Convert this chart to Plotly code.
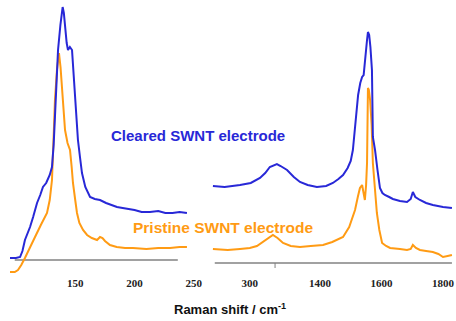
import plotly.graph_objects as go

# Left panel (RBM region), Raman shift / cm-1 and intensity (a.u.)
rbm_blue_x = [95, 100, 103.5, 105.5, 107.6, 110, 111.9, 114.5, 117.8, 120.5, 122.8, 125.5, 128.5, 130.4, 131.8, 132.9,
              134.3, 135.5, 137.5, 139.4, 140.4, 141.4, 142.8, 143.9, 145.5, 147.3, 148.1, 149.8, 151, 152.3, 154,
              155.7, 158.5, 162.5, 166.5, 170.9, 176, 180, 185.2, 190, 195, 200, 206, 213, 220, 226, 232, 238, 244.2]
rbm_blue_y = [17, 17, 18, 24, 35, 42, 48, 58, 72, 80, 88, 92, 100, 108, 130, 158,
              195, 225, 250, 268, 262, 248, 232, 225, 228, 225, 212, 175, 155, 135, 118,
              102, 88, 78, 76, 75, 72, 70, 68, 67, 66, 65, 63, 63, 64, 62, 62, 63, 62]

rbm_orange_x = [95, 99, 101.7, 104.5, 107.6, 111, 116.1, 121, 126.2, 128.5, 130.4, 131.7, 132.9, 134.6, 136.3, 137.6,
                138.8, 140, 141.4, 143.5, 145.6, 147, 148.1, 150, 151.5, 153.5, 156.6, 160, 164, 168.4, 170.9, 173,
                175.1, 179.3, 185, 192, 198.7, 210, 220, 230, 238, 244.2]
rbm_orange_y = [3, 3, 5, 10, 17, 26, 38, 50, 62, 75, 95, 135, 175, 205, 222, 208,
                188, 165, 145, 132, 125, 108, 92, 75, 62, 52, 45, 40, 37, 35, 38, 37,
                34, 30, 28, 27, 27, 26, 27, 27, 28, 28]

# Right panel (D / G band region)
g_blue_x = [1052, 1090, 1140, 1175, 1205, 1222, 1237, 1250, 1260, 1272, 1293, 1315, 1335, 1360, 1390, 1420, 1442,
            1460, 1475, 1490, 1500, 1507, 1514, 1520, 1524, 1531, 1537, 1542, 1546, 1550, 1553, 1556, 1560, 1564,
            1569, 1572, 1579, 1587, 1595, 1603, 1611, 1625, 1637, 1660, 1683, 1695, 1702, 1710, 1725, 1745, 1767,
            1800, 1829]
g_blue_y = [89, 88, 90, 92, 97, 102, 108, 110, 111, 109, 105, 98, 93, 90, 88, 89, 92,
            96, 100, 107, 114, 125, 145, 162, 180, 192, 198, 200, 215, 225, 235, 243, 240, 228,
            205, 138, 125, 105, 87, 82, 80, 78, 76, 74, 73, 76, 83, 78, 75, 72, 70,
            68, 67]

g_orange_x = [1052, 1100, 1140, 1172, 1195, 1215, 1232, 1247, 1262, 1280, 1305, 1335, 1370, 1410, 1440, 1475, 1495,
              1514, 1523, 1530, 1537, 1541, 1546, 1550, 1553, 1556, 1559, 1563, 1568, 1572, 1578, 1585, 1593, 1602,
              1615, 1628, 1660, 1683, 1695, 1702, 1712, 1725, 1745, 1767, 1785, 1800, 1815, 1829]
g_orange_y = [26, 25, 26, 27, 29, 33, 37, 40, 37, 32, 29, 28, 29, 30, 33, 38, 48,
              65, 78, 87, 90, 82, 75, 90, 112, 187, 185, 175, 150, 112, 85, 62, 45, 32,
              29, 27, 26, 25, 26, 30, 27, 25, 24, 23, 21, 18, 19, 20]

left_tickvals = [150, 200, 250]
left_ticktext = ["150", "200", "250"]
right_tickvals = [1172, 1400, 1600, 1800]
right_ticktext = ["300", "1400", "1600", "1800"]

BLUE = "rgb(40,40,215)"
ORANGE = "rgb(255,155,20)"
GRAY = "rgb(130,130,130)"

fig = go.Figure()
fig.add_trace(go.Scatter(x=rbm_orange_x, y=rbm_orange_y, mode="lines", line=dict(color=ORANGE, width=2),
                         xaxis="x", yaxis="y", showlegend=False))
fig.add_trace(go.Scatter(x=rbm_blue_x, y=rbm_blue_y, mode="lines", line=dict(color=BLUE, width=2),
                         xaxis="x", yaxis="y", showlegend=False))
fig.add_trace(go.Scatter(x=g_orange_x, y=g_orange_y, mode="lines", line=dict(color=ORANGE, width=2),
                         xaxis="x2", yaxis="y2", showlegend=False))
fig.add_trace(go.Scatter(x=g_blue_x, y=g_blue_y, mode="lines", line=dict(color=BLUE, width=2),
                         xaxis="x2", yaxis="y2", showlegend=False))

tickfont = dict(family="Liberation Serif", size=11, color="#222", weight="bold")

# baselines (axis lines)
fig.add_shape(type="line", xref="x", yref="y", x0=99, x1=236.5, y0=15, y1=15,
              line=dict(color=GRAY, width=1.5), layer="below")
fig.add_shape(type="line", xref="x2", yref="y2", x0=1058, x1=1829, y0=12, y1=12,
              line=dict(color=GRAY, width=1.5), layer="below")
fig.add_shape(type="line", xref="x2", yref="y2", x0=1254, x1=1254, y0=12, y1=7,
              line=dict(color=GRAY, width=1), layer="below")

fig.update_layout(
    width=456, height=321, autosize=False,
    margin=dict(l=0, r=0, t=0, b=46, autoexpand=False),
    paper_bgcolor="white", plot_bgcolor="white",
    xaxis=dict(domain=[10 / 456, 195 / 456], range=[95, 251], showgrid=False, zeroline=False,
               showline=False, ticks="", tickvals=left_tickvals, ticktext=left_ticktext,
               tickfont=tickfont, anchor="y", automargin=False),
    xaxis2=dict(domain=[212 / 456, 453 / 456], range=[1049, 1832.5], showgrid=False, zeroline=False,
                showline=False, ticks="", tickvals=right_tickvals, ticktext=right_ticktext,
                tickfont=tickfont, anchor="y2", automargin=False),
    yaxis=dict(domain=[0, 1], range=[0, 275], visible=False, anchor="x", automargin=False),
    yaxis2=dict(domain=[0, 1], range=[0, 275], visible=False, anchor="x2", automargin=False),
    annotations=[
        dict(text="<b>Cleared SWNT electrode</b>", xref="paper", yref="paper", x=198 / 456, y=(275 - 135) / 275,
             showarrow=False, font=dict(family="Liberation Sans", size=15, color=BLUE),
             xanchor="center", yanchor="middle"),
        dict(text="<b>Pristine SWNT electrode</b>", xref="paper", yref="paper", x=223 / 456, y=(275 - 227) / 275,
             showarrow=False, font=dict(family="Liberation Sans", size=15.5, color=ORANGE),
             xanchor="center", yanchor="middle"),
        dict(text="<b>Raman shift / cm<sup>-1</sup></b>", xref="paper", yref="paper", x=230 / 456,
             y=(275 - 309) / 275, showarrow=False, font=dict(family="Liberation Sans", size=13, color="#111"),
             xanchor="center", yanchor="middle"),
    ],
)

fig.write_html("out.html", config={"responsive": False, "displayModeBar": False},
               post_script="document.body.style.margin='0';document.body.style.overflow='hidden';")
